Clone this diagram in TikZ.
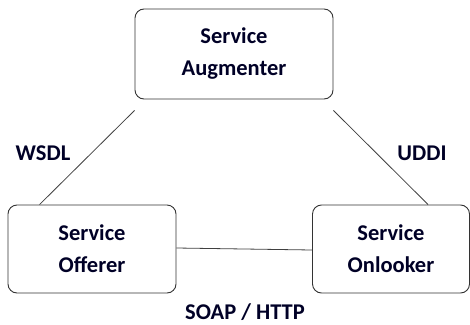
\documentclass[tikz,border=0pt]{standalone}
\usepackage{fontspec}
\setmainfont{Carlito}
\begin{document}
\begin{tikzpicture}[x=1pt,y=-1pt,
  svc/.style={draw=black!80, line width=0.9pt, rounded corners=9pt, align=center,
    font=\fontsize{22.5}{32}\selectfont\bfseries, text=black!85!blue, inner sep=0pt},
  link/.style={draw=black!75, line width=0.8pt},
  tag/.style={font=\fontsize{22.5}{26}\selectfont\bfseries, text=black!85!blue, inner sep=0pt}]
  \useasboundingbox (0,0) rectangle (470,324);
  % three parties of the service model
  \node[svc, minimum width=198pt, minimum height=90pt] (aug) at (234,54) {Service\\Augmenter};
  \node[svc, minimum width=168pt, minimum height=88pt] (off) at (92,249) {Service\\Offerer};
  \node[svc, minimum width=157pt, minimum height=88pt] (onl) at (391,249) {Service\\Onlooker};
  % connectors between them
  \draw[link] ([yshift=-11pt]aug.south west) -- ([xshift=32pt]off.north west);
  \draw[link] ([yshift=-11pt]aug.south east) -- ([xshift=116pt]onl.north west);
  \draw[link] ([yshift=1pt]off.east) -- ([yshift=-1pt]onl.west);
  % protocol labels
  \node[tag] (wsdl) at (43,153) {WSDL};
  \node[tag] (uddi) at (422,153) {UDDI};
  \node[tag] (soap) at (245,312) {SOAP / HTTP};
\end{tikzpicture}
\end{document}
